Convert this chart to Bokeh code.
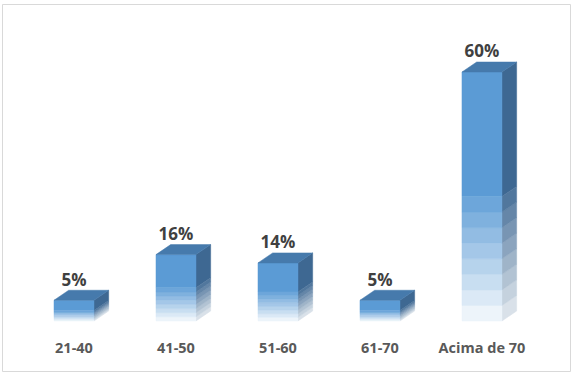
from bokeh.plotting import figure
from bokeh.models import Range1d, ColumnDataSource
from bokeh.core.properties import value
from bokeh.embed import file_html
from bokeh.resources import INLINE

categories = ["21-40", "41-50", "51-60", "61-70", "Acima de 70"]
values = [5, 16, 14, 5, 60]
labels = ["5%", "16%", "14%", "5%", "60%"]

FRONT = (91, 155, 213)
TOP = (70, 122, 172)
SIDE = (62, 104, 146)
BW = 0.392  # bar width (x units)
DX = 0.144  # depth in x units
DY = 2.41   # depth in y units
NB = 8      # gradient bands
GF = 0.5    # fraction of bar height covered by gradient


def mix(c, f, w=(255, 255, 255)):
    r = [int(round(w[i] + (c[i] - w[i]) * f)) for i in range(3)]
    return "#%02x%02x%02x" % tuple(r)


p = figure(width=572, height=380, output_backend="svg", toolbar_location=None,
           x_range=Range1d(-0.701, 4.868), y_range=Range1d(-12.17, 76.27),
           min_border_left=2, min_border_right=2, min_border_top=4, min_border_bottom=9)
p.xaxis.visible = False
p.yaxis.visible = False
p.grid.visible = False
p.outline_line_color = "#d9d9d9"
p.outline_line_width = 1
p.background_fill_color = "white"
p.border_fill_color = "white"

fx, fy, fc = [], [], []   # front pieces
sx, sy, sc = [], [], []   # side pieces
tx, ty = [], []           # top faces
for i, v in enumerate(values):
    xl, xr = i - BW / 2, i + BW / 2
    g = v * GF
    fx.append([xl, xr, xr, xl]); fy.append([g, g, v, v]); fc.append(mix(FRONT, 1.0))
    sx.append([xr, xr + DX, xr + DX, xr]); sy.append([g, g + DY, v + DY, v]); sc.append(mix(SIDE, 1.0))
    h = g / NB
    for k in range(NB):
        y0, y1 = k * h, (k + 1) * h
        f = (k + 1) / (NB + 1)
        fx.append([xl, xr, xr, xl]); fy.append([y0, y0, y1, y1]); fc.append(mix(FRONT, f))
        sx.append([xr, xr + DX, xr + DX, xr]); sy.append([y0, y0 + DY, y1 + DY, y1])
        sc.append(mix(SIDE, f, (236, 240, 244)))
    tx.append([xl, xr, xr + DX, xl + DX]); ty.append([v, v, v + DY, v + DY])

p.patches(xs="xs", ys="ys", fill_color="c", line_color="c", line_width=0.5,
          source=ColumnDataSource(dict(xs=sx, ys=sy, c=sc)))
p.patches(xs="xs", ys="ys", fill_color="c", line_color="c", line_width=0.5,
          source=ColumnDataSource(dict(xs=fx, ys=fy, c=fc)))
p.patches(xs=tx, ys=ty, fill_color=mix(TOP, 1.0), line_color=mix(TOP, 1.0), line_width=0.5)

xs = list(range(len(values)))
p.text(x=xs, y=[v + DY - 0.1 for v in values], text=labels,
       text_font=value("Open Sans"), text_font_style="bold", text_font_size="17px",
       text_color="#404040", text_align="center", text_baseline="bottom")
p.text(x=xs, y=[-6.4] * len(values), text=categories,
       text_font=value("Open Sans"), text_font_style="bold", text_font_size="14.5px",
       text_color="#595959", text_align="center", text_baseline="middle")

open("out.html", "w").write(file_html(p, INLINE))
